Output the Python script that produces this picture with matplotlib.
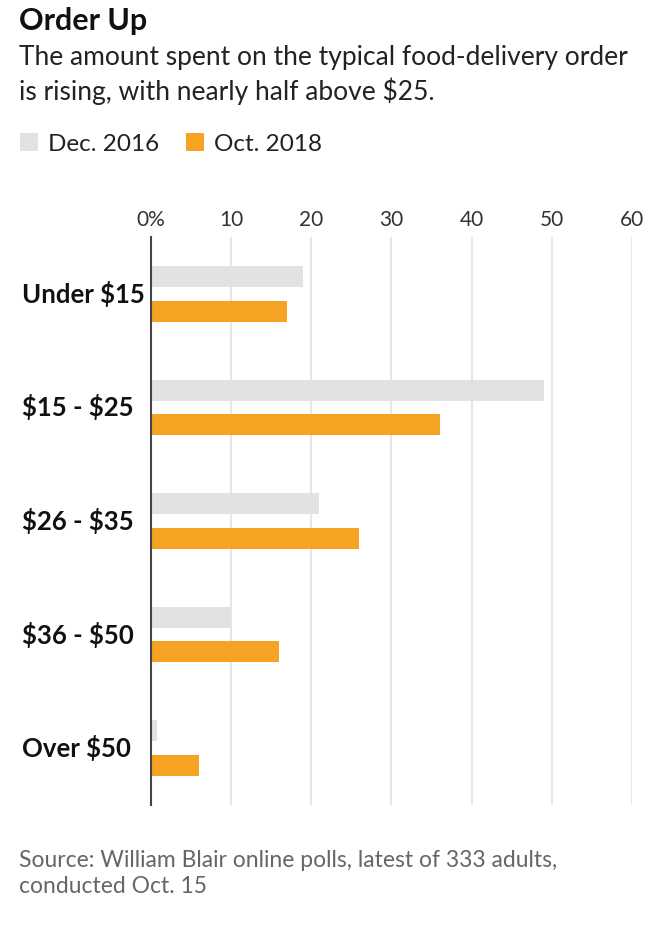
import numpy as np
import matplotlib
matplotlib.use('Agg')
import matplotlib.pyplot as plt

categories = ['Under \\$15', '\\$15 - \\$25', '\\$26 - \\$35', '\\$36 - \\$50', 'Over \\$50']
dec_2016 = [19, 49, 21, 10, 0.8]
oct_2018 = [17, 36, 26, 16, 6]
series_labels = ['Dec. 2016', 'Oct. 2018']
x_ticks = [0, 10, 20, 30, 40, 50, 60]
x_tick_labels = ['0%', '10', '20', '30', '40', '50', '60']

GRAY = '#e1e2e3'
ORANGE = '#f6a324'
TEXT_FONT = ['Lato', 'DejaVu Sans']
TICK_FONT = ['Liberation Sans Narrow', 'Lato', 'DejaVu Sans']

fig = plt.figure(figsize=(6.5, 9.25), dpi=100)
ax = fig.add_axes([0.2323, 0.1297, 0.74, 0.6141])

y = np.arange(len(categories))
h = 0.185
off = 0.152
b1 = ax.barh(y - off, dec_2016, height=h, color=GRAY, zorder=3, label=series_labels[0])
b2 = ax.barh(y + off, oct_2018, height=h, color=ORANGE, zorder=3, label=series_labels[1])

ax.set_ylim(len(categories) - 0.5, -0.5)
ax.set_xlim(0, 60)
ax.xaxis.tick_top()
ax.set_xticks(x_ticks)
ax.set_xticklabels(x_tick_labels, fontsize=15, family=TICK_FONT, color='#333333')
ax.tick_params(axis='x', length=0, pad=5)
ax.xaxis.grid(True, color='#e2e2e2', linewidth=1.2, zorder=0)
ax.set_yticks([])
for s in ['top', 'right', 'bottom']:
    ax.spines[s].set_visible(False)
ax.spines['left'].set_color('#444444')
ax.spines['left'].set_linewidth(1.5)
ax.spines['left'].set_zorder(4)

# category labels, left-aligned near the figure edge
for i, cat in enumerate(categories):
    ax.annotate(cat, xy=(0, i), xycoords=('figure fraction', 'data'),
                xytext=(22, 0), textcoords='offset pixels',
                ha='left', va='center', fontsize=18.5, fontweight='bold',
                family=TEXT_FONT, color='#111111')

fig.text(0.029, 0.9676, 'Order Up', fontsize=22, fontweight='bold',
         family=TEXT_FONT, color='#111111', va='baseline')
fig.text(0.029, 0.8919, 'The amount spent on the typical food-delivery order\nis rising, with nearly half above \\$25.',
         fontsize=19, family=TEXT_FONT, color='#222222', va='baseline', linespacing=1.32)

fig.legend(handles=[b1, b2], labels=series_labels, loc='upper left',
           bbox_to_anchor=(0.031, 0.856), ncol=2, frameon=False,
           handlelength=0.75, handleheight=0.75, handletextpad=0.4,
           columnspacing=1.1, borderaxespad=0, borderpad=0,
           prop={'family': TEXT_FONT, 'size': 17.5}, labelcolor='#222222')

fig.text(0.029, 0.0346, 'Source: William Blair online polls, latest of 333 adults,\nconducted Oct. 15',
         fontsize=16.5, family=TEXT_FONT, color='#666666', va='baseline', linespacing=1.32)

fig.savefig('out.png', dpi=100, facecolor='white')
